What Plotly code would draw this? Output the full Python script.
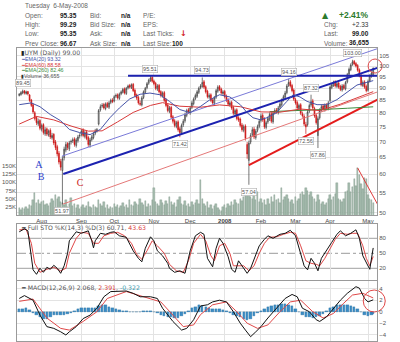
import math
import plotly.graph_objects as go

# ---------------- UYM daily bars, 13-Jul-2007 .. 6-May-2008 (trading-day index) ----------------
open_px = [
    87.0, 87.4, 88.0, 88.9, 87.8, 88.6, 87.2, 85.2, 83.3, 80.2,
    78.4, 76.0, 77.3, 74.2, 75.8, 72.6, 74.3, 72.2, 73.8, 71.2,
    72.4, 69.8, 68.3, 66.2, 63.7, 61.0, 64.8, 67.2, 69.3, 67.6,
    69.8, 70.2, 70.8, 68.7, 70.3, 71.8, 72.4, 73.8, 71.7, 73.2,
    71.3, 68.8, 70.6, 71.3, 72.8, 73.6, 76.0, 81.3, 82.7, 83.4,
    81.8, 83.8, 82.3, 84.2, 85.2, 84.8, 86.7, 87.3, 85.8, 87.7,
    88.3, 89.8, 87.8, 90.2, 91.3, 90.3, 91.7, 89.2, 87.3, 86.2,
    83.8, 83.2, 86.2, 88.3, 90.3, 92.2, 93.3, 94.8, 93.2, 92.2,
    89.7, 91.3, 88.6, 86.8, 88.2, 85.3, 83.2, 80.7, 82.3, 78.7,
    77.2, 75.2, 76.8, 74.3, 72.8, 75.8, 77.2, 79.2, 81.3, 80.2,
    82.3, 83.7, 85.8, 86.7, 88.3, 90.3, 90.8, 92.8, 90.7, 88.8,
    86.3, 87.3, 85.2, 83.8, 86.3, 88.8, 90.8, 89.7, 87.8, 88.7,
    86.7, 85.2, 83.2, 84.3, 82.2, 79.7, 81.3, 78.3, 77.8, 75.7,
    73.8, 75.3, 69.0, 64.0, 69.8, 72.3, 74.2, 71.3, 73.8, 75.2,
    77.3, 79.2, 77.8, 74.8, 76.8, 77.8, 79.8, 76.8, 80.3, 81.2,
    80.2, 82.3, 83.3, 85.2, 86.3, 88.2, 91.3, 92.8, 91.2, 89.3,
    85.3, 84.2, 81.8, 83.3, 79.8, 78.8, 75.8, 75.8, 80.8, 83.2,
    84.8, 81.8, 79.2, 72.0, 78.3, 81.2, 82.8, 81.3, 83.2, 81.8,
    85.0, 90.3, 91.3, 92.8, 90.8, 92.3, 90.8, 89.3, 91.2, 89.8,
    92.8, 96.2, 98.3, 100.8, 102.3, 101.2, 100.3, 98.2, 95.8, 91.2,
    92.8, 90.8, 89.2, 93.2, 95.3, 95.35,
]
high_px = [
    88.0, 88.8, 89.45, 89.3, 89.0, 88.9, 87.6, 85.6, 83.8, 80.8,
    78.9, 78.0, 77.8, 76.2, 76.3, 74.9, 74.8, 74.1, 74.5, 72.9,
    72.8, 70.5, 68.9, 66.9, 64.5, 65.3, 68.3, 69.9, 69.8, 70.2,
    70.6, 71.3, 71.4, 71.2, 72.2, 72.8, 74.2, 74.5, 73.8, 73.8,
    71.9, 71.2, 72.2, 73.2, 74.3, 74.6, 81.6, 83.4, 83.9, 84.0,
    84.2, 84.4, 84.7, 85.7, 85.9, 87.1, 87.8, 87.9, 88.2, 89.1,
    90.2, 90.4, 90.6, 91.6, 91.9, 92.1, 92.3, 89.9, 87.8, 86.9,
    84.9, 86.7, 89.1, 90.6, 92.7, 94.2, 95.51, 95.3, 93.8, 92.8,
    91.8, 91.9, 89.2, 88.7, 88.9, 85.9, 83.8, 82.8, 82.9, 79.3,
    77.8, 77.2, 77.4, 75.0, 76.2, 77.8, 80.2, 81.7, 82.0, 82.8,
    84.8, 86.2, 87.8, 89.2, 90.7, 91.8, 94.73, 93.6, 91.3, 89.4,
    87.9, 87.9, 85.9, 86.8, 89.7, 91.3, 91.4, 90.3, 89.2, 89.3,
    87.4, 85.9, 84.8, 84.9, 82.9, 81.7, 81.9, 78.9, 78.4, 76.4,
    75.8, 75.9, 69.8, 70.3, 72.8, 74.9, 75.0, 74.2, 75.8, 77.8,
    79.9, 80.0, 78.5, 77.2, 78.8, 80.3, 80.4, 80.8, 81.9, 82.0,
    82.8, 84.3, 85.8, 87.3, 88.9, 91.8, 94.16, 93.6, 91.9, 89.9,
    86.0, 84.9, 83.7, 83.9, 80.6, 79.6, 76.8, 81.3, 83.8, 87.32,
    85.6, 82.5, 79.9, 78.8, 81.9, 83.3, 83.6, 83.8, 83.9, 84.8,
    91.2, 92.3, 93.3, 93.5, 92.8, 92.9, 91.5, 91.8, 91.9, 93.2,
    96.8, 99.3, 101.3, 103.00, 102.9, 101.9, 100.9, 98.9, 96.4, 93.4,
    93.5, 91.6, 93.8, 96.2, 97.4, 99.29,
]
low_px = [
    86.6, 86.9, 87.5, 87.4, 87.3, 87.0, 84.4, 82.4, 79.8, 77.3,
    75.6, 75.3, 73.8, 73.4, 72.3, 71.9, 71.8, 71.6, 70.8, 70.6,
    68.8, 67.2, 65.2, 62.8, 61.0, 51.97, 64.0, 66.5, 67.2, 66.9,
    69.0, 69.5, 68.3, 68.0, 69.6, 71.0, 71.7, 71.4, 71.0, 70.4,
    68.2, 68.0, 70.0, 70.7, 72.1, 73.0, 75.5, 80.6, 82.1, 81.4,
    81.1, 82.0, 81.6, 83.5, 83.9, 84.2, 86.0, 85.3, 85.2, 87.1,
    87.8, 87.4, 87.2, 89.5, 89.9, 89.7, 88.4, 86.3, 85.2, 83.3,
    82.8, 82.6, 85.5, 87.6, 89.6, 91.5, 92.8, 92.4, 91.3, 89.2,
    88.9, 87.8, 86.2, 86.1, 84.3, 82.3, 80.3, 80.0, 77.8, 76.2,
    74.8, 74.5, 73.3, 71.42, 72.2, 75.0, 76.5, 78.5, 79.7, 79.4,
    81.6, 83.0, 85.1, 86.0, 87.6, 89.6, 90.2, 89.8, 87.8, 85.8,
    85.6, 84.3, 83.3, 83.1, 85.6, 88.1, 88.8, 87.3, 87.1, 85.8,
    84.3, 82.8, 82.5, 81.3, 79.3, 79.0, 77.3, 76.8, 74.8, 73.3,
    73.1, 70.3, 64.5, 57.04, 69.1, 71.6, 70.8, 70.6, 73.1, 74.5,
    76.6, 76.8, 74.3, 74.1, 76.1, 77.1, 76.3, 76.1, 79.6, 79.8,
    79.5, 81.6, 82.6, 84.5, 85.6, 87.5, 90.6, 90.3, 88.3, 84.8,
    83.3, 81.3, 81.1, 79.3, 78.3, 75.3, 72.56, 75.1, 80.1, 82.5,
    81.3, 78.3, 75.8, 67.86, 77.6, 80.5, 80.8, 80.6, 81.3, 81.1,
    84.3, 89.6, 90.6, 90.3, 90.1, 89.8, 88.8, 88.6, 89.3, 89.1,
    92.1, 95.5, 97.6, 100.1, 100.3, 99.3, 97.3, 94.8, 90.8, 90.5,
    89.8, 88.3, 88.6, 92.5, 94.6, 95.35,
]
close_px = [
    87.5, 88.2, 88.8, 88.0, 88.5, 87.6, 85.0, 83.0, 80.5, 78.0,
    76.5, 77.0, 74.5, 75.5, 73.0, 74.0, 72.5, 73.5, 71.5, 72.0,
    69.5, 68.0, 66.0, 63.5, 62.0, 64.5, 67.5, 69.0, 68.0, 69.5,
    70.0, 70.5, 69.0, 70.5, 71.5, 72.0, 73.5, 72.0, 73.0, 71.0,
    69.0, 70.5, 71.5, 72.5, 73.5, 74.0, 81.0, 82.5, 83.0, 82.0,
    83.5, 82.5, 84.0, 85.0, 84.5, 86.5, 87.0, 86.0, 87.5, 88.5,
    89.5, 88.0, 90.0, 91.0, 90.5, 91.5, 89.0, 87.0, 86.0, 84.0,
    83.5, 86.0, 88.5, 90.0, 92.0, 93.5, 94.5, 93.0, 92.0, 90.0,
    91.0, 88.5, 87.0, 88.0, 85.0, 83.0, 81.0, 82.0, 78.5, 77.0,
    75.5, 76.5, 74.0, 73.0, 75.5, 77.0, 79.5, 81.0, 80.5, 82.0,
    84.0, 85.5, 87.0, 88.5, 90.0, 91.0, 92.5, 90.5, 88.5, 86.5,
    87.0, 85.0, 84.0, 86.0, 89.0, 90.5, 89.5, 88.0, 88.5, 86.5,
    85.0, 83.5, 84.0, 82.0, 80.0, 81.0, 78.0, 77.5, 75.5, 74.0,
    75.0, 71.0, 66.0, 69.5, 72.0, 74.0, 71.5, 73.5, 75.0, 77.0,
    79.0, 77.5, 75.0, 76.5, 78.0, 79.5, 77.0, 80.0, 81.0, 80.5,
    82.0, 83.5, 85.0, 86.5, 88.0, 91.0, 92.5, 91.0, 89.0, 85.5,
    84.0, 82.0, 83.0, 80.0, 79.0, 76.0, 75.0, 80.5, 83.0, 84.5,
    82.0, 79.0, 76.5, 78.0, 81.0, 82.5, 81.5, 83.0, 82.0, 84.0,
    90.5, 91.5, 92.5, 91.0, 92.0, 90.5, 89.5, 91.0, 90.0, 92.5,
    96.0, 98.5, 100.5, 102.0, 101.0, 100.0, 98.0, 95.5, 91.5, 92.5,
    90.5, 89.0, 93.0, 95.5, 96.67, 99.00,
]
volume_k = [
    20, 15, 22, 18, 25, 17, 30, 28, 45, 67,
    38, 46, 35, 40, 42, 30, 35, 28, 38, 50,
    44, 62, 48, 55, 40, 37, 30, 45, 25, 33,
    52, 28, 35, 22, 30, 18, 25, 30, 20, 28,
    40, 26, 22, 32, 25, 20, 46, 35, 28, 40,
    22, 30, 18, 26, 20, 35, 24, 30, 20, 28,
    38, 25, 32, 22, 45, 30, 28, 40, 35, 30,
    50, 38, 30, 42, 25, 35, 28, 45, 83, 40,
    35, 28, 46, 38, 30, 42, 35, 55, 40, 30,
    38, 25, 45, 55, 35, 30, 42, 28, 35, 25,
    40, 30, 38, 45, 35, 107, 50, 35, 28, 40,
    22, 30, 18, 28, 35, 20, 15, 12, 25, 30,
    22, 35, 28, 40, 32, 45, 38, 35, 50, 42,
    55, 60, 70, 76, 55, 48, 62, 45, 70, 40,
    50, 38, 45, 30, 48, 35, 55, 40, 60, 45,
    50, 38, 83, 45, 55, 62, 50, 40, 45, 35,
    55, 42, 50, 65, 70, 60, 83, 75, 60, 70,
    55, 48, 40, 62, 45, 35, 40, 30, 38, 50,
    60, 45, 55, 65, 98, 50, 45, 40, 48, 70,
    75, 98, 70, 85, 110, 90, 144, 122, 95, 80,
    113, 110, 60, 50, 45, 36.655,
]
days = list(range(len(close_px)))

month_ticks = [13, 36, 55, 78, 99, 119, 140, 160, 180, 202]
month_labels = ["Aug", "Sep", "Oct", "Nov", "Dec", "<b>2008</b>", "Feb", "Mar", "Apr", "May"]
volume_ticks = [25, 50, 75, 100, 125, 150]
volume_tick_labels = ["25K", "50K", "75K", "100K", "125K", "150K"]

# ---------------- overlays ----------------
ema20_x = [0, 7, 12, 18, 24, 29, 35, 41, 47, 52.5, 58, 64, 70, 75.7, 81.5, 87, 93, 99,
           104.7, 110.5, 116, 122, 128, 132, 135.4, 139.5, 143.5, 149, 155, 158.6, 162.6,
           166.7, 172.5, 178, 184, 190, 195.6, 201.4, 205]
ema20 = [83.3, 84.0, 82.5, 79.5, 77.2, 74.1, 73.0, 72.3, 74.1, 78.3, 82.0, 85.6, 87.5, 88.0,
         87.3, 84.6, 81.4, 80.2, 82.5, 85.3, 87.3, 86.4, 83.3, 80.2, 78.3, 77.6, 78.3, 80.2,
         84.6, 87.3, 86.4, 84.6, 83.3, 83.3, 85.3, 88.3, 91.4, 92.6, 93.32]
ema60_x = [0, 10, 20, 30, 40, 48, 57, 66, 76, 83, 93, 105, 116, 128, 140, 151, 163, 174,
           186, 197, 205]
ema60 = [76.0, 78.8, 77.5, 75.3, 73.5, 73.6, 76.8, 80.3, 83.0, 84.1, 82.7, 82.3, 83.2, 82.5,
         80.5, 80.4, 81.6, 81.0, 83.5, 86.3, 88.58]
ema260_x = [145, 160, 175, 190, 205]
ema260 = [80.6, 80.9, 81.4, 81.9, 82.46]

# hand-drawn trendlines: (day, price) end points
resistance_level = high_px[76]
resist_x, resist_y = [63, 207.2], [resistance_level, resistance_level]
support_x, support_y = [25.5, 210.7], [60.0, 100.0]
channel_x, channel_y = [24.7, 220.6], [65.3, 112.6]
lower_thin_x, lower_thin_y = [25.3, 207.2], [52.06, 88.4]
lower_thick_x, lower_thick_y = [133, 220.6], [62.6, 90.1]
vol_trend_x, vol_trend_y = [196, 209], [144, 18.4]

# chart notes
note_blue_x, note_blue_y, note_blue_t = [11.4, 12.6], [62.6, 58.9], ["A", "B"]
note_red_x, note_red_y, note_red_t = [35.2], [57.4], ["C"]
ring_price = (206.1, 100.0)
ring_macd = (205.6, 1.86)

peak_days = [2, 76, 106, 156, 169, 193]
trough_days = [25, 93, 133, 166, 173]

# ---------------- Full STO %K(14,3) %D(3) ----------------
sto_k_x = [0, 3, 5, 8, 10, 12, 14, 16, 18, 20, 22, 24, 26, 28, 29, 33, 36, 40, 42, 43,
           44, 47, 50, 53, 55, 58, 62, 66, 69, 71, 73, 76, 78, 80, 83, 86, 87, 90, 93, 96,
           99, 102, 105, 107, 109, 112, 114, 116, 118, 121, 123, 125, 127, 129, 132, 134,
           137, 139, 142, 144, 147, 151, 154, 157, 160, 163, 165, 167, 169, 171, 173, 175,
           178, 181, 184, 186, 189, 192, 195, 197, 199, 201, 203, 205]
sto_k = [93, 99, 95, 17, 8, 20, 12, 22, 18, 26, 20, 10, 25, 50, 75, 93, 90, 95, 75, 61,
         75, 90, 88, 92, 93, 85, 82, 55, 40, 33, 60, 83, 75, 55, 45, 30, 20, 12, 15, 10,
         55, 85, 92, 88, 40, 23, 60, 80, 70, 43, 18, 12, 35, 25, 10, 20, 45, 65, 78, 85,
         80, 88, 90, 96, 85, 50, 25, 17, 40, 30, 15, 40, 55, 72, 88, 95, 85, 90, 97, 80,
         45, 30, 18, 60.71]
sto_d_x = [0, 4, 7, 9, 12, 16, 20, 24, 27, 29, 33, 36, 40, 43, 46, 49, 53, 57, 61, 65,
           68, 71, 74, 77, 80, 84, 87, 91, 95, 98, 101, 105, 108, 111, 113, 116, 119, 122,
           124, 127, 130, 133, 136, 139, 142, 145, 149, 153, 157, 160, 163, 166, 169, 172,
           174, 177, 180, 183, 186, 190, 193, 196, 199, 201, 203, 205]
sto_d = [97, 98, 70, 30, 12, 18, 22, 15, 20, 50, 80, 92, 90, 70, 70, 85, 90, 92, 85, 70,
         48, 38, 55, 75, 65, 50, 28, 15, 12, 35, 70, 88, 75, 45, 35, 65, 70, 50, 25, 25,
         25, 15, 25, 50, 70, 82, 83, 88, 92, 90, 65, 35, 30, 28, 25, 40, 58, 78, 90, 88,
         90, 90, 65, 40, 25, 43.63]

# ---------------- MACD(12,26,9) ----------------
macd_x = [0, 3, 8, 12, 16, 20, 24, 27, 29, 33, 37, 41, 45, 49, 53, 57, 62, 66, 70, 76,
          80, 83, 89, 94, 97, 101, 105, 109, 112, 116, 120, 124, 128, 131, 134, 137, 140,
          144, 149, 154, 158, 161, 164, 168, 172, 174, 178, 182, 186, 190, 195, 197, 200,
          202, 205]
macd = [2.3, 2.8, 2.0, -0.6, -2.6, -2.9, -3.5, -4.05, -3.5, -2.6, -1.2, -0.6, 0.6, 2.6,
        3.5, 3.5, 3.6, 3.2, 2.6, 2.6, 2.3, 0.6, -1.7, -3.2, -2.9, -1.4, 1.0, 1.2, 1.7, 2.0,
        1.7, 0.0, -2.0, -3.2, -4.35, -3.5, -2.6, -1.1, 0.6, 2.3, 3.0, 2.6, 0.6, 0.0, -1.4,
        -1.7, -0.9, 0.6, 2.0, 3.2, 4.35, 4.1, 2.3, 1.7, 2.068]
signal_x = [0, 8, 16, 24, 29, 37, 45, 51, 62, 72, 82, 89, 95, 101, 105, 112, 120, 126,
            132, 138, 144, 151, 157, 163, 170, 176, 182, 188, 193, 199, 205]
signal = [1.8, 2.2, -1.1, -2.9, -3.2, -1.7, 0.0, 2.3, 3.5, 2.6, 1.7, -0.6, -2.6, -2.3,
          -0.5, 1.2, 1.7, 0.0, -2.0, -2.9, -2.3, 0.0, 1.7, 2.0, 0.0, -1.1, -0.3, 1.5, 2.9,
          3.2, 2.391]
hist_x = list(range(0, 205, 2)) + [205]
hist = [
    0.5, 0.5, 0.6, 0.3, -0.2, -0.6, -1.0, -1.2, -1.3, -1.0,
    -0.6, -0.5, -0.5, -0.6, -0.4, -0.2, 0.1, 0.4, 0.6, 0.6,
    0.7, 0.7, 0.7, 1.0, 1.2, 1.1, 0.9, 0.6, 0.4, 0.3,
    0.2, 0.1, 0.0, -0.1, -0.1, 0.0, 0.1, 0.2, 0.1, 0.0,
    -0.3, -0.6, -0.8, -0.9, -1.0, -1.1, -1.1, -0.8, -0.4, 0.1,
    0.6, 0.9, 1.2, 1.0, 0.8, 0.6, 0.5, 0.4, 0.4, 0.3,
    0.1, -0.3, -0.6, -0.8, -1.0, -1.2, -1.4, -1.3, -0.8, -0.3,
    0.1, 0.5, 0.8, 1.0, 1.1, 1.2, 1.3, 1.3, 1.2, 1.0,
    0.5, -0.1, -0.6, -0.9, -1.0, -1.1, -1.0, -0.8, -0.4, 0.1,
    0.6, 0.9, 1.1, 1.2, 1.2, 1.1, 1.0, 0.9, 0.5, 0.0,
    -0.6, -0.8, -0.5, -0.322,
]

# ---------------- page geometry ----------------
W, H = 400, 342
SANS = "Liberation Sans"
VERD = "DejaVu Sans"
GRID = "#e3e3e3"
FRAME = "#9a9a9a"
X_RANGE = [-1.3, 207.2]
XDOM = [17 / W, 377 / W]
PRICE_DOM = [1 - 215 / H, 1 - 48 / H]
STO_DOM = [1 - 280 / H, 1 - 224 / H]
MACD_DOM = [1 - 341 / H, 1 - 281 / H]

fig = go.Figure()

# volume (base axis of the price panel)
fig.add_trace(go.Bar(x=days, y=volume_k, xaxis="x", yaxis="y", width=0.8,
                     marker=dict(color="#a5bcae", line=dict(color="#7f9a8b", width=0.4))))
fig.add_trace(go.Scatter(x=vol_trend_x, y=vol_trend_y, xaxis="x", yaxis="y", mode="lines",
                         line=dict(color="#e03a3a", width=1)))

# trendlines under the candles
for tx, ty, col, wd in [
    (channel_x, channel_y, "#7a7ad8", 1),
    (lower_thin_x, lower_thin_y, "#e47878", 1),
    (support_x, support_y, "#1c22b0", 2),
    (resist_x, resist_y, "#1c22b0", 2),
    (lower_thick_x, lower_thick_y, "#e41c1c", 2),
]:
    fig.add_trace(go.Scatter(x=tx, y=ty, xaxis="x", yaxis="y2", mode="lines",
                             line=dict(color=col, width=wd)))

# moving averages
fig.add_trace(go.Scatter(x=ema260_x, y=ema260, xaxis="x", yaxis="y2", mode="lines",
                         line=dict(color="#3d8a3d", width=1)))
fig.add_trace(go.Scatter(x=ema60_x, y=ema60, xaxis="x", yaxis="y2", mode="lines",
                         line=dict(color="#d83a3a", width=1)))
fig.add_trace(go.Scatter(x=ema20_x, y=ema20, xaxis="x", yaxis="y2", mode="lines",
                         line=dict(color="#4654a8", width=1)))

# candles
fig.add_trace(go.Candlestick(
    x=days, open=open_px, high=high_px, low=low_px, close=close_px,
    xaxis="x", yaxis="y2", whiskerwidth=0,
    increasing=dict(line=dict(color="#3c3c3c", width=0.7), fillcolor="#d6d6d6"),
    decreasing=dict(line=dict(color="#cc1414", width=0.7), fillcolor="#cc1414"),
))

# letters and rings
fig.add_trace(go.Scatter(x=note_blue_x, y=note_blue_y, text=note_blue_t, mode="text",
                         xaxis="x", yaxis="y2",
                         textfont=dict(family="Liberation Serif", size=10, color="#2c3ccc")))
fig.add_trace(go.Scatter(x=note_red_x, y=note_red_y, text=note_red_t, mode="text",
                         xaxis="x", yaxis="y2",
                         textfont=dict(family="Liberation Serif", size=10, color="#cc2222")))
fig.add_trace(go.Scatter(x=[ring_price[0]], y=[ring_price[1]], xaxis="x", yaxis="y2",
                         mode="markers", cliponaxis=False,
                         marker=dict(symbol="circle-open", size=14, color="#e04848",
                                     line=dict(width=1))))

# stochastic
fig.add_trace(go.Scatter(x=sto_d_x, y=sto_d, xaxis="x2", yaxis="y3", mode="lines",
                         line=dict(color="#e04848", width=1)))
fig.add_trace(go.Scatter(x=sto_k_x, y=sto_k, xaxis="x2", yaxis="y3", mode="lines",
                         line=dict(color="#111111", width=1)))

# MACD
fig.add_trace(go.Bar(x=hist_x, y=hist, xaxis="x3", yaxis="y4", width=1.4,
                     marker=dict(color="#3b8dc6", line=dict(color="#1e6396", width=0.3))))
fig.add_trace(go.Scatter(x=signal_x, y=signal, xaxis="x3", yaxis="y4", mode="lines",
                         line=dict(color="#e04848", width=1)))
fig.add_trace(go.Scatter(x=macd_x, y=macd, xaxis="x3", yaxis="y4", mode="lines",
                         line=dict(color="#111111", width=1)))
fig.add_trace(go.Scatter(x=[ring_macd[0]], y=[ring_macd[1]], xaxis="x3", yaxis="y4",
                         mode="markers", cliponaxis=False,
                         marker=dict(symbol="circle-open", size=22, color="#e04848",
                                     line=dict(width=1))))

# ---------------- axes ----------------
tickfont = dict(family=SANS, size=6, color="#555")
common_x = dict(domain=XDOM, range=X_RANGE, tickvals=month_ticks, showgrid=True,
                gridcolor=GRID, gridwidth=1, zeroline=False, showline=True, mirror=True,
                linecolor=FRAME, linewidth=1, ticks="")
fig.update_layout(
    xaxis=dict(common_x, anchor="y", ticktext=month_labels,
               tickfont=dict(family=SANS, size=6, color="#444"),
               rangeslider=dict(visible=False)),
    xaxis2=dict(common_x, anchor="y3", matches="x", showticklabels=False),
    xaxis3=dict(common_x, anchor="y4", matches="x", showticklabels=False),
    yaxis=dict(domain=PRICE_DOM, range=[0, 511.2], side="left",
               tickvals=volume_ticks, ticktext=volume_tick_labels, showgrid=False,
               zeroline=False, showline=False, ticks="", tickfont=tickfont),
    yaxis2=dict(domain=PRICE_DOM, overlaying="y", side="right", type="log",
                range=[1.6941, 2.0370], tickvals=list(range(50, 110, 5)), showgrid=True,
                gridcolor=GRID, zeroline=False, showline=True, mirror=True, linecolor=FRAME,
                ticks="", tickfont=tickfont, anchor="x"),
    yaxis3=dict(domain=STO_DOM, range=[-3.4, 108.6], side="right", tickvals=[20, 50, 80],
                showgrid=False, zeroline=False, showline=True, mirror=True, linecolor=FRAME,
                ticks="", tickfont=tickfont, anchor="x2"),
    yaxis4=dict(domain=MACD_DOM, range=[-5.1, 5.34], side="right", tickvals=[-4, -2, 0, 2, 4],
                showgrid=True, gridcolor=GRID, zeroline=False, showline=True, mirror=True,
                linecolor=FRAME, ticks="", tickfont=tickfont, anchor="x3"),
)

# stochastic reference levels
shapes = []
for lvl, dash, col in [(80, "solid", "#a0a0a0"), (20, "solid", "#a0a0a0"), (50, "dashdot", "#9a9a9a")]:
    shapes.append(dict(type="line", xref="x2 domain", yref="y3", x0=0, x1=1, y0=lvl, y1=lvl,
                       line=dict(color=col, width=1, dash=dash), layer="below"))

# ---------------- text ----------------
def note(px, py, text, size=6.5, color="#666", anchor="left", family=SANS):
    return dict(x=px / W, y=1 - py / H, xref="paper", yref="paper", text=text,
                showarrow=False, xanchor=anchor, yanchor="middle",
                font=dict(size=size, color=color, family=family))

last, prev = close_px[-1], close_px[-2]
chg = last - prev
pct = chg / prev * 100
anns = [note(23, 6, "Tuesday  6-May-2008")]
row_y = [15.7, 25, 34, 43.3]
left_labels = ["Open:", "High:", "Low:", "Prev Close:"]
left_values = [open_px[-1], high_px[-1], low_px[-1], prev]
mid_labels = ["Bid:", "Bid Size:", "Ask:", "Ask Size:"]
right_labels = ["P/E:", "EPS:", "Last Ticks:", "Last Size:"]
for ry, lab, val, mlab, rlab in zip(row_y, left_labels, left_values, mid_labels, right_labels):
    anns.append(note(23, ry, lab))
    anns.append(note(58, ry, f"<b>{val:.2f}</b>", color="#222"))
    anns.append(note(88, ry, mlab))
    anns.append(note(119, ry, "<b>n/a</b>", color="#222"))
    anns.append(note(141, ry, rlab))
anns.append(note(183, 34, "<b>\u2193</b>", size=8, color="#d01818", anchor="center", family=VERD))
anns.append(note(170, 43.3, "<b>100</b>", color="#222"))
anns.append(note(325, 15, "\u25B2", size=8, color="#2c7a2c", anchor="center", family=VERD))
anns.append(note(371, 15, f"<b>+{pct:.2f}%</b>", size=8.5, color="#2c7a2c", anchor="right"))
anns.append(note(322, 25, "Chg:"))
anns.append(note(371, 25, f"+{chg:.2f}", color="#333", anchor="right"))
anns.append(note(322, 34, "Last:"))
anns.append(note(371, 34, f"<b>{last:.2f}</b>", color="#222", anchor="right"))
anns.append(note(322, 43.3, "Volume:"))
anns.append(note(371, 43.3, f"<b>{volume_k[-1] * 1000:,.0f}</b>", color="#222", anchor="right"))

# price panel legend
anns.append(note(18.5, 52.7, f"<span style='color:#222'>\u25AE</span>UYM (Daily) {last:.2f}",
                 size=6.2, color="#555", family=VERD))
anns.append(note(18.5, 59.0, f"\u2501EMA(20) {ema20[-1]:.2f}", size=5.3, color="#4654a8"))
anns.append(note(18.5, 64.7, f"\u2501EMA(60) {ema60[-1]:.2f}", size=5.3, color="#d83a3a"))
anns.append(note(18.5, 70.4, f"\u2501EMA(260) {ema260[-1]:.2f}", size=5.3, color="#3d8a3d"))
anns.append(note(18.5, 76.0, f"<span style='color:#333'>\u25AE</span>Volume {volume_k[-1] * 1000:,.0f}",
                 size=5.3, color="#555"))

# indicator legends
anns.append(note(19, 227.5, f"<span style='color:#111'>\u2501</span> Full STO %K(14,3) %D(3) "
                            f"{sto_k[-1]:.2f}, <span style='color:#d83a3a'>{sto_d[-1]:.2f}</span>",
                 size=6.2, color="#555", family=VERD))
anns.append(note(19, 287, f"<span style='color:#111'>\u2501</span> MACD(12,26,9) {macd[-1]:.3f}, "
                          f"<span style='color:#d83a3a'>{signal[-1]:.3f}</span>, "
                          f"<span style='color:#3b9bb0'>{hist[-1]:.3f}</span>",
                 size=6.2, color="#555", family=VERD))

# boxed high / low values
for d in peak_days:
    anns.append(dict(x=d, y=math.log10(high_px[d]), xref="x", yref="y2", text=f"{high_px[d]:.2f}",
                     showarrow=False, yshift=7, font=dict(family=SANS, size=5.5, color="#555"),
                     bgcolor="white", bordercolor="#b0b0b0", borderwidth=0.6, borderpad=0.5))
for d in trough_days:
    anns.append(dict(x=d, y=math.log10(low_px[d]), xref="x", yref="y2", text=f"{low_px[d]:.2f}",
                     showarrow=False, yshift=-7, font=dict(family=SANS, size=5.5, color="#555"),
                     bgcolor="white", bordercolor="#b0b0b0", borderwidth=0.6, borderpad=0.5))

fig.update_layout(
    width=W, height=H, margin=dict(l=0, r=0, t=0, b=0),
    paper_bgcolor="white", plot_bgcolor="white", showlegend=False, hovermode=False,
    bargap=0, shapes=shapes, annotations=anns,
)

fig.write_html("out.html")
